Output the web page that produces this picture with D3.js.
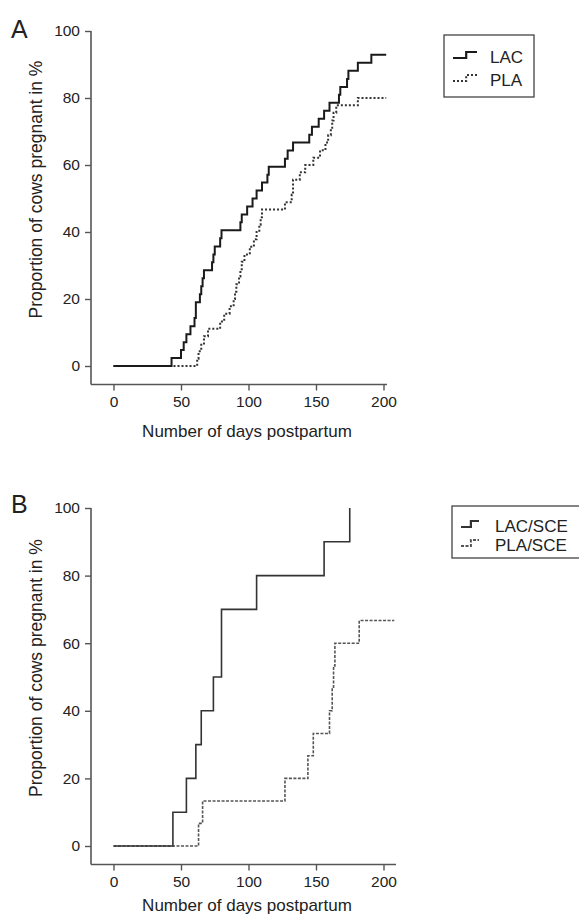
<!DOCTYPE html>
<html><head><meta charset="utf-8">
<script src="https://cdn.jsdelivr.net/npm/d3@7"></script>
<style>body{margin:0;background:#fff}svg{display:block}text{font-family:"Liberation Sans",Arial,sans-serif;fill:#222}</style>
</head><body>
<script>
// ---- data ----
const xTicks = [0, 50, 100, 150, 200];
const yTicks = [0, 20, 40, 60, 80, 100];
// Panel A
const lacDays = [0,43,50,52,54,57,60,61,64,65,66,67,73,74,75,79,80,94,95,99,103,106,110,114,115,127,129,133,145,147,152,156,160,167,168,173,174,181,191,202];
const lacPct  = [0,2.4,4.8,7.1,9.5,11.9,14.3,19.0,21.4,23.8,26.2,28.6,31.0,33.3,35.7,38.1,40.5,42.9,45.2,47.6,50.0,52.4,54.8,57.1,59.5,61.9,64.3,66.7,69.0,71.4,73.8,76.2,78.6,81.0,83.3,85.7,88.1,90.5,92.9,92.9];
const plaDays = [0,62,63,65,67,70,79,82,86,89,90,91,93,94,95,97,101,104,106,108,109,110,127,132,133,138,142,148,153,157,159,161,162,163,165,181,202];
const plaPct  = [0,2.2,4.4,6.7,8.9,11.1,13.3,15.6,17.8,20.0,22.2,24.4,26.7,28.9,31.1,33.3,35.6,37.8,40.0,42.2,44.4,46.7,48.9,51.1,55.6,57.8,60.0,62.2,64.4,66.7,68.9,71.1,73.3,75.6,77.8,80.0,80.0];
// Panel B
const lacSceDays = [0,44,54,61,65,74,80,106,156,175];
const lacScePct  = [0,10,20,30,40,50,70,80,90,100];
const plaSceDays = [0,63,66,127,144,148,160,162,163,164,182,208];
const plaScePct  = [0,6.7,13.3,20,26.7,33.3,40,46.7,53.3,60,66.7,66.7];
const legendA = ["LAC", "PLA"];
const legendB = ["LAC/SCE", "PLA/SCE"];
const yTitle = "Proportion of cows pregnant in %";
const xTitle = "Number of days postpartum";

const svg = d3.select("body").append("svg").attr("width",579).attr("height",914);

function panel(cfg){
  const g = svg.append("g");
  const x = d3.scaleLinear().domain([0,200]).range([113.5,383.5]);
  const y = d3.scaleLinear().domain([0,100]).range([cfg.y0, cfg.y100]);
  const axisX = 91, axisY = cfg.y0 + 18.5;
  // axes
  g.append("line").attr("x1",axisX).attr("x2",axisX).attr("y1",y(100)).attr("y2",axisY)
    .attr("stroke","#555").attr("stroke-width",1.6);
  g.append("line").attr("x1",axisX).attr("x2",cfg.xEnd).attr("y1",axisY).attr("y2",axisY)
    .attr("stroke","#555").attr("stroke-width",1.6);
  const ya = g.append("g").attr("transform",`translate(${axisX},0)`)
    .call(d3.axisLeft(y).tickValues(yTicks).tickSize(6).tickPadding(5));
  const xa = g.append("g").attr("transform",`translate(0,${axisY})`)
    .call(d3.axisBottom(x).tickValues(xTicks).tickSize(6).tickPadding(5));
  [ya,xa].forEach(a=>{
    a.select(".domain").remove();
    a.selectAll("line").attr("stroke","#555").attr("stroke-width",1.4);
    a.selectAll("text").style("font-size","15.5px").attr("fill","#222");
  });
  // titles
  g.append("text").attr("x",11).attr("y",cfg.letterY).text(cfg.letter).style("font-size","25px");
  g.append("text").attr("transform",`translate(42,${(y(0)+y(100))/2 - 9}) rotate(-90)`)
    .attr("text-anchor","middle").style("font-size","17.5px").text(yTitle);
  g.append("text").attr("x",247).attr("y",cfg.xTitleY).attr("text-anchor","middle")
    .style("font-size","17px").text(xTitle);
  // curves
  const line = d3.line().curve(d3.curveStepAfter).x(d=>x(d[0])).y(d=>y(d[1]));
  g.append("path").datum(d3.zip(cfg.days2,cfg.pct2)).attr("d",line).attr("fill","none")
    .attr("stroke",cfg.dotColor).attr("stroke-width",cfg.dotW).attr("stroke-dasharray",cfg.dash);
  g.append("path").datum(d3.zip(cfg.days1,cfg.pct1)).attr("d",line).attr("fill","none")
    .attr("stroke",cfg.solidColor).attr("stroke-width",cfg.solidW);
  // legend
  const L = cfg.legend;
  g.append("rect").attr("x",L.x).attr("y",L.y).attr("width",L.w).attr("height",L.h)
    .attr("fill","none").attr("stroke","#444").attr("stroke-width",1.3);
  L.labels.forEach((t,i)=>{
    const ty = L.y + L.first + i*L.gap;
    const gx = L.x + L.gx, gw = L.gw;
    const p = `M${gx},${ty-5} H${gx+gw*0.55} V${ty-11} H${gx+gw}`;
    g.append("path").attr("d",p).attr("fill","none")
      .attr("stroke", i===0?cfg.solidColor:cfg.dotColor)
      .attr("stroke-width", i===0?2.2:2)
      .attr("stroke-dasharray", i===0?null:cfg.dash);
    g.append("text").attr("x",L.x+L.tx).attr("y",ty).style("font-size","17px").text(t);
  });
}

panel({y0:366, y100:31, xEnd:387, letter:"A", letterY:38, xTitleY:437,
  days1:lacDays, pct1:lacPct, days2:plaDays, pct2:plaPct,
  solidColor:"#1a1a1a", solidW:2, dotColor:"#333", dotW:2, dash:"2,2",
  legend:{x:444,y:35,w:90,h:62,labels:legendA,first:28,gap:23,gx:9,gw:24,tx:46}});

panel({y0:846, y100:508, xEnd:396, letter:"B", letterY:513, xTitleY:911,
  days1:lacSceDays, pct1:lacScePct, days2:plaSceDays, pct2:plaScePct,
  solidColor:"#333", solidW:1.6, dotColor:"#555", dotW:1.6, dash:"3,1.5",
  legend:{x:452,y:506,w:140,h:52,labels:legendB,first:26,gap:19,gx:9,gw:18,tx:43}});
</script>
</body></html>
